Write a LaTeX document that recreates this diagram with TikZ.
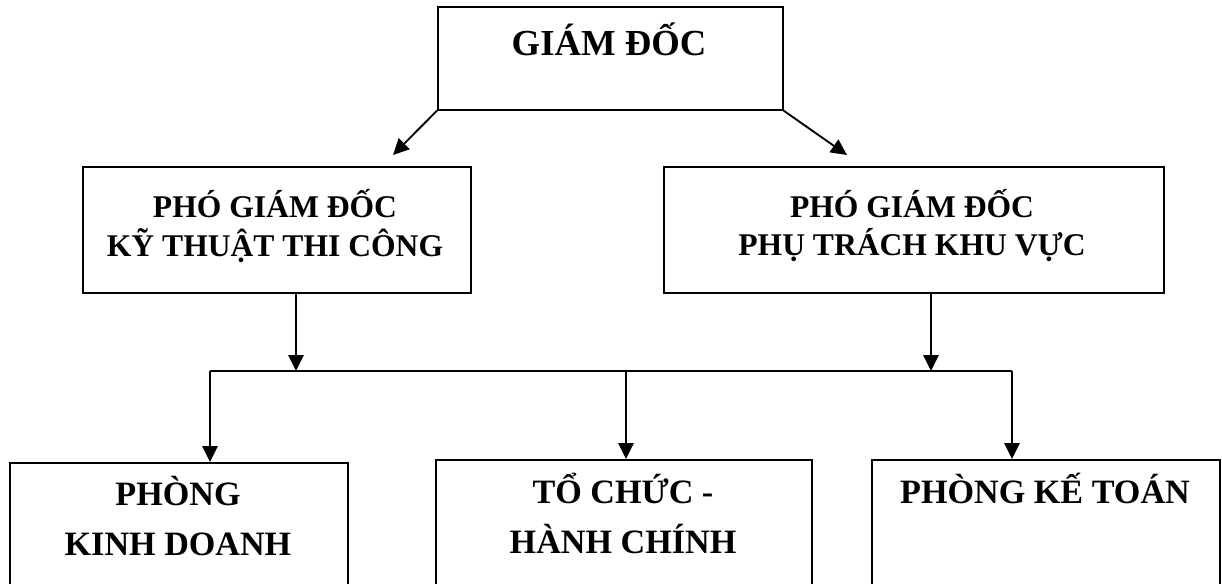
\documentclass[tikz,border=0pt]{standalone}
\usepackage{fontspec}
\setmainfont{Liberation Serif}
\usetikzlibrary{arrows.meta}
% font sizes for the three levels of the chart
\newcommand\fontTop{\fontsize{27.5pt}{33pt}\selectfont\bfseries}
\newcommand\fontMid{\fontsize{23.7pt}{27.75pt}\selectfont\bfseries}
\newcommand\fontLow{\fontsize{25.6pt}{37.5pt}\selectfont\bfseries}
\begin{document}
\begin{tikzpicture}[x=0.75pt,y=-0.75pt,
  box/.style={draw, line width=1.2pt, inner sep=0pt, anchor=north west},
  lbl/.style={inner sep=0pt, anchor=base},
  conn/.style={line width=1.4pt},
  arr/.style={conn, -{Triangle[length=12pt,width=11.5pt]}}]
\useasboundingbox (0,0) rectangle (1222,583);
\clip (0,0) rectangle (1222,583);

% boxes
\node[box, minimum width=345*0.75pt, minimum height=103*0.75pt] (gd) at (437,6) {};
\node[box, minimum width=388*0.75pt, minimum height=126*0.75pt] (kt) at (82,166) {};
\node[box, minimum width=500*0.75pt, minimum height=126*0.75pt] (kv) at (663,166) {};
\node[box, minimum width=338*0.75pt, minimum height=200*0.75pt] (kd) at (9,462) {};
\node[box, minimum width=376*0.75pt, minimum height=200*0.75pt] (tc) at (435,459) {};
\node[box, minimum width=348*0.75pt, minimum height=200*0.75pt] (kto) at (871,459) {};

% labels
\node[lbl, font=\fontTop] (gdT) at (609,55) {GIÁM ĐỐC};
\node[lbl, font=\fontMid] (ktT) at (275,217)
  {\begin{tabular}[t]{@{}c@{}}PHÓ GIÁM ĐỐC\\KỸ THUẬT THI CÔNG\end{tabular}};
\node[lbl, font=\fontMid] (kvT) at (912,217)
  {\begin{tabular}[t]{@{}c@{}}PHÓ GIÁM ĐỐC\\PHỤ TRÁCH KHU VỰC\end{tabular}};
\node[lbl, font=\fontLow] (kdT) at (178,505)
  {\begin{tabular}[t]{@{}c@{}}PHÒNG\\KINH DOANH\end{tabular}};
\node[lbl, font=\fontLow] (tcT) at (623,503)
  {\begin{tabular}[t]{@{}c@{}}TỔ CHỨC -\\HÀNH CHÍNH\end{tabular}};
\node[lbl, font=\fontLow] (ktoT) at (1045,503) {PHÒNG KẾ TOÁN};

% connector points
\coordinate (tl) at (393,155);
\coordinate (tr) at (847,155);
\coordinate (bl) at (210,371);
\coordinate (br) at (1012,371);
\coordinate (jl) at (296,371);
\coordinate (jr) at (931,371);
\coordinate (jm) at (626,371);

% connectors
\draw[arr] (gd.south west) -- (tl);
\draw[arr] (gd.south east) -- (tr);
\draw[conn] (bl) -- (br);
\draw[arr] (kt.south -| jl) -- (jl);
\draw[arr] (kv.south -| jr) -- (jr);
\draw[arr] (bl) -- (kd.north -| bl);
\draw[arr] (jm) -- (tc.north -| jm);
\draw[arr] (br) -- (kto.north -| br);
\end{tikzpicture}
\end{document}
